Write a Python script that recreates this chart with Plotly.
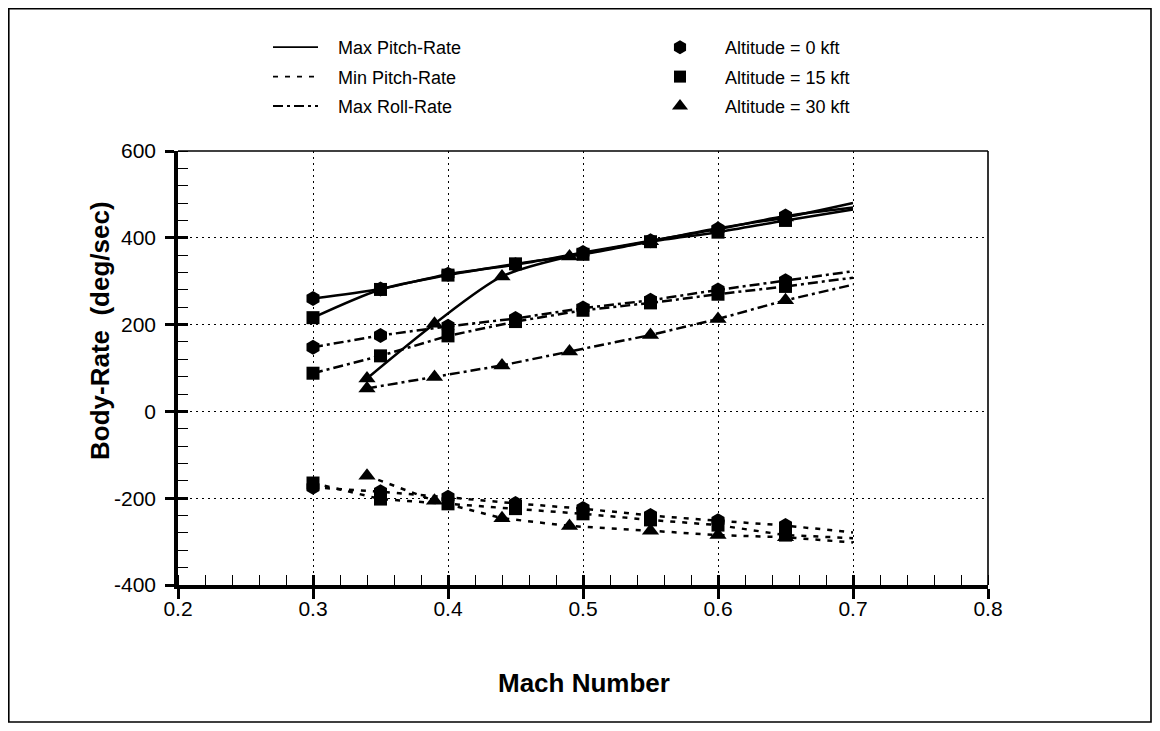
import plotly.graph_objects as go

# ---------------- data ----------------
mach_lo = [0.30, 0.35, 0.40, 0.45, 0.50, 0.55, 0.60, 0.65, 0.70]   # altitude 0 and 15 kft
mach_30 = [0.34, 0.39, 0.44, 0.49, 0.55, 0.60, 0.65, 0.70]         # altitude 30 kft

max_pitch_0 = [260, 282, 316, 338, 366, 393, 420, 450, 470]
max_pitch_15 = [216, 281, 314, 340, 362, 391, 413, 440, 465]
max_pitch_30 = [76, 202, 311, 357, 392, 422, 447, 480]

min_pitch_0 = [-175, -185, -198, -212, -224, -240, -252, -263, -279]
min_pitch_15 = [-165, -202, -213, -224, -236, -250, -262, -285, -292]
min_pitch_30 = [-148, -206, -246, -264, -275, -285, -290, -302]

max_roll_0 = [148, 175, 196, 214, 238, 256, 280, 301, 323]
max_roll_15 = [88, 128, 174, 207, 233, 250, 270, 288, 308]
max_roll_30 = [53, 79, 106, 138, 176, 213, 256, 292]

x_ticks = [0.2, 0.3, 0.4, 0.5, 0.6, 0.7, 0.8]
y_ticks = [-400, -200, 0, 200, 400, 600]

quantity_names = ["Max Pitch-Rate", "Min Pitch-Rate", "Max Roll-Rate"]
altitude_names = ["Altitude = 0 kft", "Altitude = 15 kft", "Altitude = 30 kft"]

# ---------------- style ----------------
FONT = "Liberation Sans, Arial, Helvetica, sans-serif"
BLACK = "black"
dash_styles = ["solid", "5px,7px", "10px,4px,3px,4px"]
line_shapes = ["spline", "linear", "linear"]
symbols = ["hexagon", "square", "triangle-up"]
marker_sizes = [15, 13, 15]
NB = "\u00a0"

series = {
    0: [(mach_lo, max_pitch_0), (mach_lo, max_pitch_15), (mach_30, max_pitch_30)],
    1: [(mach_lo, min_pitch_0), (mach_lo, min_pitch_15), (mach_30, min_pitch_30)],
    2: [(mach_lo, max_roll_0), (mach_lo, max_roll_15), (mach_30, max_roll_30)],
}

fig = go.Figure()

for q in range(3):
    for a in range(3):
        xs, ys = series[q][a]
        # curve (extends to last Mach point, no marker there)
        fig.add_trace(go.Scatter(
            x=xs, y=ys, mode="lines", showlegend=False, hoverinfo="skip",
            line=dict(color=BLACK, width=2.5, dash=dash_styles[q], shape=line_shapes[q], smoothing=0.8),
        ))
        # markers at the computed points
        fig.add_trace(go.Scatter(
            x=xs[:-1], y=ys[:-1], mode="markers", showlegend=False,
            marker=dict(symbol=symbols[a], size=marker_sizes[a], color=BLACK, line=dict(width=0)),
        ))

# legend entries: line styles
for q in range(3):
    fig.add_trace(go.Scatter(
        x=[None], y=[None], mode="lines", name=NB * 3 + quantity_names[q], legend="legend",
        legendgroup=f"q{q}",
        line=dict(color=BLACK, width=1.8, dash=dash_styles[q]),
    ))
# legend entries: altitude markers
for a in range(3):
    fig.add_trace(go.Scatter(
        x=[None], y=[None], mode="markers", name=NB * 3 + altitude_names[a], legend="legend2",
        legendgroup=f"a{a}",
        marker=dict(symbol=symbols[a], size=marker_sizes[a] - 1, color=BLACK),
    ))

# empty trace carrying the overlay axes (inside part of major ticks)
fig.add_trace(go.Scatter(x=[], y=[], xaxis="x2", yaxis="y2", showlegend=False, hoverinfo="skip"))

# figure sits at (8, 8) in the page because of the default body margin
OFF = 8
W, H = 1152, 723
L, T = 178 - OFF, 151 - OFF
R, B = W - (988 - OFF), H - (585 - OFF)
pw, ph = W - L - R, H - T - B


def px_x(p):  # screen pixel -> paper
    return (p - OFF - L) / pw


def px_y(p):
    return (H - B - (p - OFF)) / ph


tickfont = dict(family=FONT, size=21, color=BLACK)

fig.update_layout(
    width=W, height=H,
    margin=dict(l=L, r=R, t=T, b=B),
    paper_bgcolor="white", plot_bgcolor="white",
    font=dict(family=FONT, color=BLACK),
    xaxis=dict(
        range=[0.2, 0.8], tickvals=x_ticks, ticktext=[f"{v:.1f}" for v in x_ticks],
        ticks="outside", ticklen=10, tickwidth=3, tickcolor=BLACK,
        showline=True, linewidth=3.5, linecolor=BLACK,
        showgrid=True, gridcolor=BLACK, gridwidth=1.4, griddash="2px,4px",
        zeroline=False, tickfont=tickfont, ticklabelstandoff=-8,
        minor=dict(dtick=0.02, tick0=0.2, ticks="inside", ticklen=10, tickwidth=1.2,
                   tickcolor=BLACK, showgrid=False),
    ),
    yaxis=dict(
        range=[-400, 600], tickvals=y_ticks, ticktext=[str(v) for v in y_ticks],
        ticks="outside", ticklen=9, tickwidth=3, tickcolor=BLACK,
        showline=True, linewidth=3.5, linecolor=BLACK,
        showgrid=True, gridcolor=BLACK, gridwidth=1.4, griddash="2px,4px",
        zeroline=False, tickfont=tickfont, ticklabelstandoff=5,
        minor=dict(dtick=40, tick0=0, ticks="inside", ticklen=10, tickwidth=1.2,
                   tickcolor=BLACK, showgrid=False),
    ),
    xaxis2=dict(
        range=[0.2, 0.8], overlaying="x", anchor="y2", tickvals=x_ticks,
        ticks="inside", ticklen=10, tickwidth=3, tickcolor=BLACK,
        showticklabels=False, showline=False, showgrid=False, zeroline=False, side="bottom",
    ),
    yaxis2=dict(
        range=[-400, 600], overlaying="y", anchor="x2", tickvals=y_ticks,
        ticks="inside", ticklen=10, tickwidth=3, tickcolor=BLACK,
        showticklabels=False, showline=False, showgrid=False, zeroline=False, side="left",
    ),
    legend=dict(
        x=px_x(268), y=px_y(29), xanchor="left", yanchor="top",
        bgcolor="rgba(0,0,0,0)", font=dict(family=FONT, size=18, color=BLACK),
        itemwidth=45, tracegroupgap=3,
    ),
    legend2=dict(
        x=px_x(650), y=px_y(29), xanchor="left", yanchor="top",
        bgcolor="rgba(0,0,0,0)", font=dict(family=FONT, size=18, color=BLACK),
        itemwidth=50, tracegroupgap=3,
    ),
    annotations=[
        dict(text="<b>Mach Number</b>", xref="paper", yref="paper",
             x=px_x(584), y=px_y(683), xanchor="center", yanchor="middle",
             showarrow=False, font=dict(family=FONT, size=26, color=BLACK)),
        dict(text="<b>Body-Rate" + NB + " (deg/sec)</b>", xref="paper", yref="paper",
             x=px_x(100), y=px_y(331), xanchor="center", yanchor="middle", textangle=-90,
             showarrow=False, font=dict(family=FONT, size=26, color=BLACK)),
    ],
    shapes=[
        # outer frame
        dict(type="rect", xref="paper", yref="paper",
             x0=px_x(8.8), x1=px_x(1151), y0=px_y(722), y1=px_y(8.8),
             line=dict(color=BLACK, width=1.6), layer="below"),
        # top and right plot borders
        dict(type="line", xref="paper", yref="paper", x0=0, x1=1, y0=1, y1=1,
             line=dict(color=BLACK, width=1.6)),
        dict(type="line", xref="paper", yref="paper", x0=1, x1=1, y0=0, y1=1,
             line=dict(color=BLACK, width=1.6)),
    ],
)

fig.write_html("out.html")
